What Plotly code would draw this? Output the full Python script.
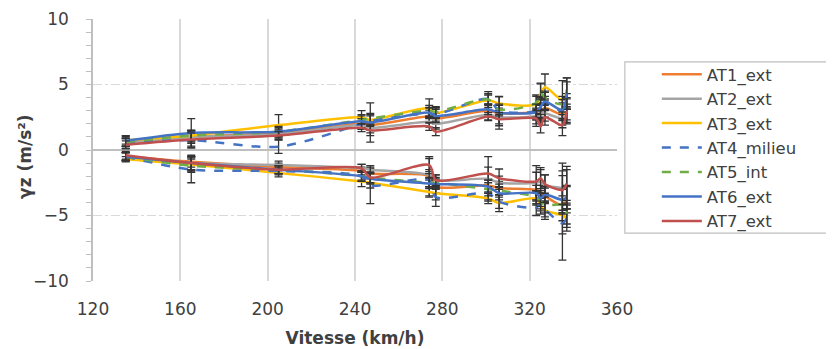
import plotly.graph_objects as go

speed = [135, 165, 205, 243, 247, 274, 277, 301, 306, 323, 325, 327, 335, 337]

names = ["AT1_ext", "AT2_ext", "AT3_ext", "AT4_milieu", "AT5_int", "AT6_ext", "AT7_ext"]
colors = ["#ED7D31", "#A5A5A5", "#FFC000", "#4472C4", "#70AD47", "#4472C4", "#C0504D"]
dashes = ["solid", "solid", "solid", "dash", "dash", "solid", "solid"]

# positive (upper) accelerations
at1_pos = [0.6, 1.0, 1.3, 2.0, 1.9, 2.55, 2.4, 3.0, 2.8, 2.9, 3.0, 3.2, 2.7, 2.9]
at2_pos = [0.55, 1.0, 1.2, 1.9, 1.7, 2.15, 2.0, 2.7, 2.5, 2.6, 2.8, 2.8, 2.4, 2.6]
at3_pos = [0.75, 1.1, 1.9, 2.5, 2.3, 3.2, 2.85, 3.8, 3.55, 3.5, 4.3, 4.8, 3.8, 4.3]
at4_pos = [0.5, 0.75, 0.25, 2.0, 2.2, 2.8, 2.7, 3.9, 3.0, 3.0, 3.5, 3.6, 3.0, 3.8]
at5_pos = [0.6, 1.1, 1.4, 2.3, 2.4, 3.0, 2.9, 3.85, 3.1, 3.6, 4.45, 4.0, 3.5, 4.6]
at6_pos = [0.7, 1.3, 1.4, 2.2, 2.1, 2.85, 2.6, 3.1, 2.85, 2.9, 3.3, 3.7, 3.05, 4.3]
at7_pos = [0.4, 0.8, 1.1, 1.7, 1.5, 1.8, 1.4, 2.55, 2.35, 2.4, 1.8, 2.5, 1.9, 3.0]

# negative (lower) accelerations
at1_neg = [-0.5, -0.9, -1.3, -1.6, -1.8, -2.0, -2.8, -2.7, -2.9, -3.05, -3.2, -3.5, -4.2, -3.8]
at2_neg = [-0.5, -1.0, -1.15, -1.4, -1.5, -1.9, -2.3, -2.2, -2.5, -2.5, -2.4, -2.7, -2.9, -3.0]
at3_neg = [-0.7, -1.1, -1.75, -2.4, -2.5, -3.2, -3.3, -3.7, -4.05, -3.7, -4.3, -4.6, -5.0, -5.2]
at4_neg = [-0.5, -1.5, -1.6, -2.0, -2.7, -2.3, -3.6, -3.3, -3.95, -4.4, -4.05, -4.5, -5.6, -5.2]
at5_neg = [-0.5, -1.2, -1.5, -2.0, -2.1, -2.5, -2.5, -3.0, -3.1, -3.6, -3.9, -4.2, -4.2, -4.85]
at6_neg = [-0.5, -1.0, -1.5, -2.0, -2.2, -2.55, -2.6, -2.8, -3.3, -3.3, -3.7, -3.4, -3.8, -3.6]
at7_neg = [-0.4, -1.0, -1.5, -1.4, -2.1, -1.15, -2.3, -1.8, -2.15, -2.4, -2.15, -2.6, -3.05, -2.55]

# error bar half-widths (upper / lower curves)
at1_pos_err = [0.3, 0.5, 0.3, 0.4, 0.4, 0.5, 0.4, 0.5, 0.4, 0.6, 0.6, 0.7, 0.8, 0.6]
at2_pos_err = [0.3, 0.4, 0.3, 0.3, 0.4, 0.4, 0.4, 0.4, 0.5, 0.6, 0.6, 0.6, 0.7, 0.6]
at3_pos_err = [0.3, 0.4, 0.8, 0.5, 0.4, 0.7, 0.4, 0.4, 0.5, 0.7, 0.8, 1.0, 1.5, 1.2]
at4_pos_err = [0.4, 0.6, 0.5, 0.4, 0.4, 0.4, 0.5, 0.4, 0.4, 0.5, 0.5, 0.5, 0.6, 0.5]
at5_pos_err = [0.3, 0.4, 0.3, 0.3, 0.4, 0.4, 0.4, 0.6, 0.4, 0.5, 0.6, 0.5, 0.6, 0.6]
at6_pos_err = [0.4, 1.1, 0.4, 0.5, 1.5, 0.4, 0.5, 0.4, 1.25, 0.6, 0.6, 0.7, 0.8, 1.2]
at7_pos_err = [0.3, 0.5, 0.3, 0.3, 0.4, 0.3, 0.3, 0.3, 0.5, 0.6, 0.5, 0.6, 0.8, 0.9]

at1_neg_err = [0.3, 0.4, 0.3, 0.3, 0.4, 1.5, 0.5, 0.5, 0.5, 0.6, 0.5, 0.6, 1.2, 1.0]
at2_neg_err = [0.3, 0.5, 0.3, 0.3, 0.3, 0.4, 0.4, 1.7, 0.5, 1.3, 0.9, 0.8, 1.9, 1.5]
at3_neg_err = [0.2, 0.5, 0.3, 0.4, 0.4, 0.4, 0.5, 0.4, 0.65, 0.5, 0.6, 0.7, 3.4, 1.0]
at4_neg_err = [0.3, 1.0, 0.3, 0.4, 1.4, 0.5, 0.7, 0.5, 0.5, 0.6, 0.6, 0.6, 0.8, 0.7]
at5_neg_err = [0.3, 0.5, 0.3, 0.3, 0.4, 0.4, 0.4, 0.5, 0.5, 0.5, 0.6, 0.6, 0.7, 0.8]
at6_neg_err = [0.3, 0.6, 0.3, 0.4, 0.4, 0.4, 0.4, 0.5, 0.5, 0.6, 0.6, 0.6, 0.8, 0.9]
at7_neg_err = [0.3, 0.5, 0.3, 0.3, 0.4, 0.5, 0.4, 0.5, 0.7, 0.7, 0.8, 0.7, 1.1, 1.3]

pos_series = [at1_pos, at2_pos, at3_pos, at4_pos, at5_pos, at6_pos, at7_pos]
neg_series = [at1_neg, at2_neg, at3_neg, at4_neg, at5_neg, at6_neg, at7_neg]
pos_errs = [at1_pos_err, at2_pos_err, at3_pos_err, at4_pos_err, at5_pos_err, at6_pos_err, at7_pos_err]
neg_errs = [at1_neg_err, at2_neg_err, at3_neg_err, at4_neg_err, at5_neg_err, at6_neg_err, at7_neg_err]

x_ticks = [120, 160, 200, 240, 280, 320, 360]
y_ticks = [-10, -5, 0, 5, 10]

FONT = "DejaVu Sans"
TXT = "#404040"

fig = go.Figure()
# legend entries first (upper curves), lower curves afterwards without legend
for i, name in enumerate(names):
    fig.add_trace(go.Scatter(
        x=speed, y=pos_series[i], mode="lines", name=name, showlegend=True,
        line=dict(color=colors[i], width=2.5, dash=dashes[i], shape="spline", smoothing=0.8),
        error_y=dict(type="data", array=pos_errs[i], visible=True, color="#333333",
                     thickness=1.3, width=4),
    ))
for i, name in enumerate(names):
    fig.add_trace(go.Scatter(
        x=speed, y=neg_series[i], mode="lines", name=name, showlegend=False,
        line=dict(color=colors[i], width=2.5, dash=dashes[i], shape="spline", smoothing=0.8),
        error_y=dict(type="data", array=neg_errs[i], visible=True, color="#333333",
                     thickness=1.3, width=4),
    ))

fig.update_layout(
    width=826, height=341,
    margin=dict(l=85, r=217, t=11, b=68, autoexpand=False),
    paper_bgcolor="white", plot_bgcolor="white",
    font=dict(family=FONT, size=17, color=TXT),
    legend=dict(x=1.076, y=0.855, xanchor="left", yanchor="top",
                font=dict(family=FONT, size=16.5, color=TXT),
                borderwidth=0, bgcolor="rgba(0,0,0,0)",
                tracegroupgap=0, itemwidth=40),
    shapes=[dict(type="rect", xref="paper", yref="paper",
                 x0=1.015, x1=1.6, y0=0.183, y1=0.836,
                 line=dict(color="#BFBFBF", width=1.2), fillcolor="white", layer="below")],
    annotations=[dict(text="<b>γz (m/s²)</b>", xref="paper", yref="paper",
                      x=-0.130, y=0.473, textangle=-90, showarrow=False,
                      xanchor="center", yanchor="middle",
                      font=dict(family=FONT, size=17, color=TXT))],
    xaxis=dict(range=[120, 360], tickvals=x_ticks, showgrid=True, automargin=False,
               gridcolor="#D9D9D9", gridwidth=1.5, zeroline=False,
               showline=False, ticks="", ticklabelstandoff=16,
               tickfont=dict(family=FONT, size=17, color=TXT),
               title=dict(text="<b>Vitesse (km/h)</b>", standoff=14,
                          font=dict(family=FONT, size=17, color=TXT))),
    yaxis=dict(range=[-10, 10], tickvals=y_ticks, showgrid=True, automargin=False,
               gridcolor="#D9D9D9", gridwidth=1.2, griddash="dashdot",
               zeroline=True, zerolinecolor="#BFBFBF", zerolinewidth=1.5,
               showline=True, linecolor="#BFBFBF", linewidth=1.5,
               ticks="outside", ticklen=5, tickcolor="#BFBFBF",
               ticklabelstandoff=14,
               minor=dict(dtick=1, ticks="outside", ticklen=5, tickcolor="#BFBFBF", showgrid=False),
               tickfont=dict(family=FONT, size=17, color=TXT)),
    yaxis2=dict(range=[-10, 10], overlaying="y", anchor="x", side="left", automargin=False,
                tickvals=y_ticks, showticklabels=False, showgrid=False, zeroline=False,
                showline=False, ticks="inside", ticklen=5, tickcolor="#BFBFBF",
                minor=dict(dtick=1, ticks="inside", ticklen=5, tickcolor="#BFBFBF", showgrid=False)),
    xaxis2=dict(range=[120, 360], overlaying="x", anchor="free", position=0.5, automargin=False,
                tickvals=x_ticks, showticklabels=False, showgrid=False, zeroline=False,
                showline=False, ticks="outside", ticklen=4, tickcolor="#BFBFBF"),
    xaxis3=dict(range=[120, 360], overlaying="x", anchor="free", position=0.5, automargin=False,
                tickvals=x_ticks, showticklabels=False, showgrid=False, zeroline=False,
                showline=False, ticks="inside", ticklen=4, tickcolor="#BFBFBF"),
)

fig.write_html("out.html")
